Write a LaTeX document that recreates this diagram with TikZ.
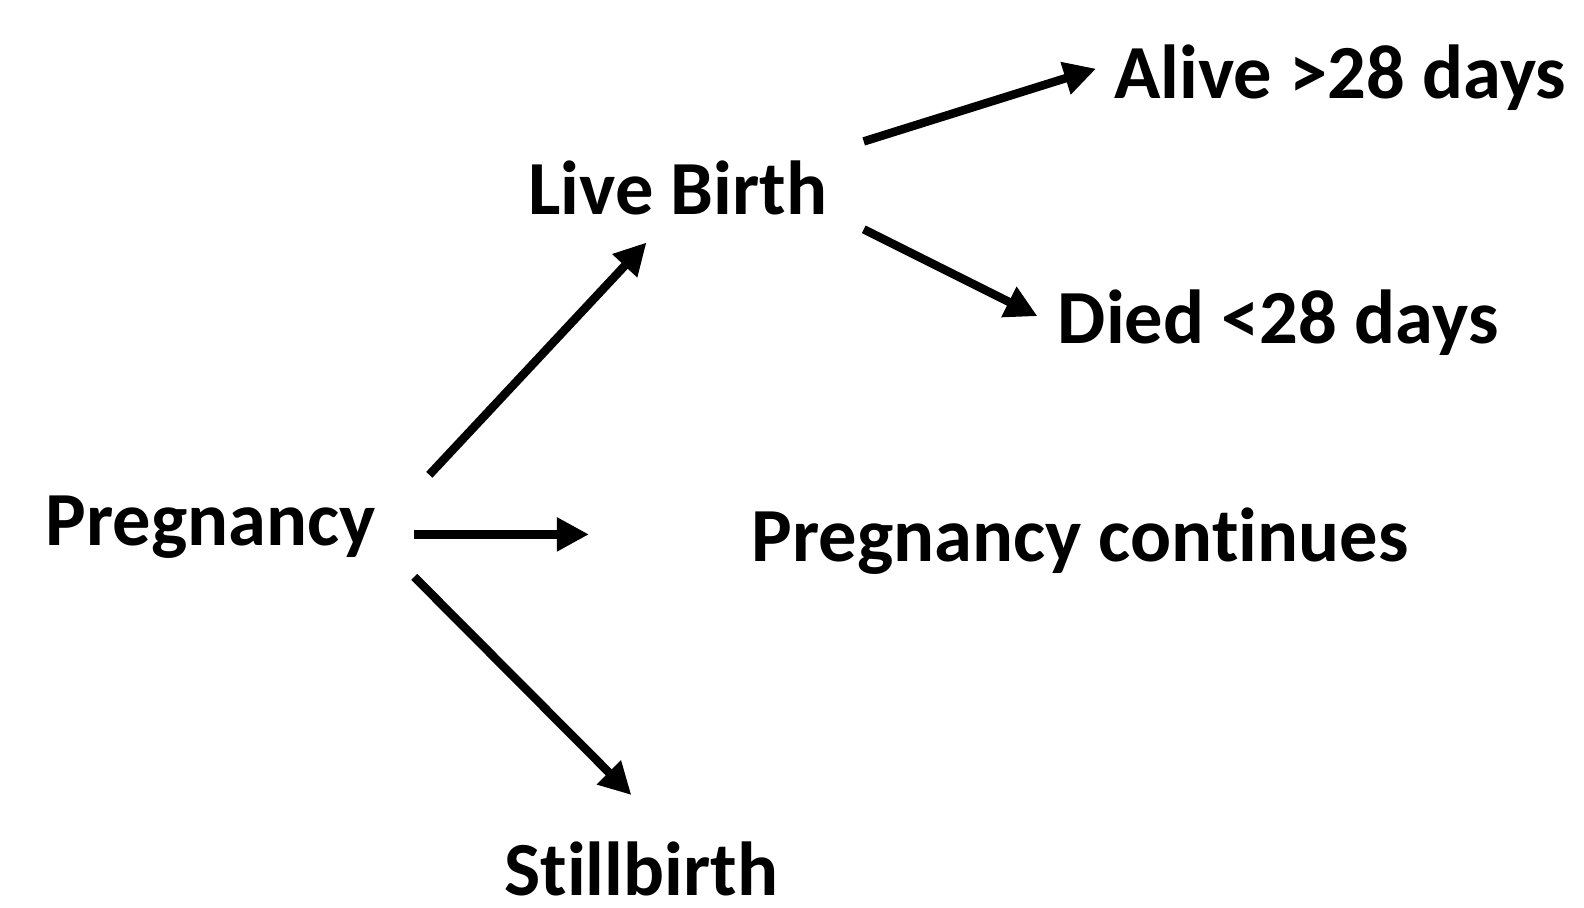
\documentclass[tikz,border=0pt]{standalone}
\usepackage{fontspec}
\setmainfont{Carlito}[Ligatures=NoCommon,RawFeature={-liga;-clig;-dlig}]
\usetikzlibrary{arrows.meta}
\begin{document}
\begin{tikzpicture}[x=1.0102pt,y=-1.0102pt,
  lbl/.style={anchor=base west,inner sep=0pt,font=\fontsize{76.5}{90}\selectfont\bfseries},
  arr/.style={line width=8.5pt,-{Triangle[length=32pt,width=32pt]}}]
\useasboundingbox (0,0) rectangle (1568,898);
\node[lbl] (preg) at (45,540) {Pregnancy};
\node[lbl] (live) at (523,212) {Live Birth};
\node[lbl] (alive) at (1103,98) {Alive >28 days};
\node[lbl] (died) at (1047,340) {Died <28 days};
\node[lbl] (cont) at (744,556) {Pregnancy continues};
\node[lbl] (still) at (499,886) {Stillbirth};
\coordinate (p1) at (425,470);
\coordinate (t1) at (640,240);
\coordinate (p2) at (410,529);
\coordinate (t2) at (583,529);
\coordinate (p3) at (410,571);
\coordinate (t3) at (625,787);
\coordinate (l1) at (855,140);
\coordinate (t4) at (1085,68);
\coordinate (l2) at (855,227);
\coordinate (t5) at (1027,313);
\draw[arr] (p1) -- (t1);
\draw[arr] (p2) -- (t2);
\draw[arr] (p3) -- (t3);
\draw[arr] (l1) -- (t4);
\draw[arr] (l2) -- (t5);
\end{tikzpicture}
\end{document}
